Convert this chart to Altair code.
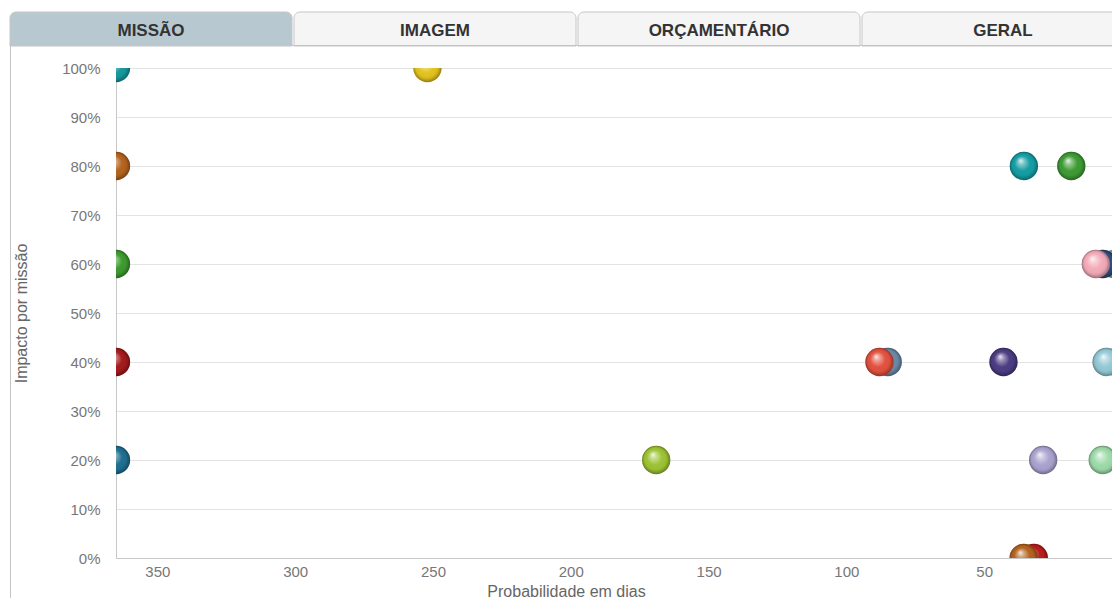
import altair as alt
import pandas as pd

# ---- data -------------------------------------------------------------
tabs = ["MISSÃO", "IMAGEM", "ORÇAMENTÁRIO", "GERAL"]
selected_tab = "MISSÃO"

risk_ids = ["R01", "R02", "R03", "R04", "R05", "R06", "R07", "R08", "R09", "R10",
            "R11", "R12", "R13", "R14", "R15", "R16", "R17", "R18", "R19", "R20", "R21"]
days = [365, 365, 365, 365, 365, 252, 169, 88, 85, 43,
        5.6, 2, 35.6, 18.4, 9.5, 7, 3, 28.6, 7, 35.7, 32]
impact = [1.0, 0.8, 0.6, 0.4, 0.2, 1.0, 0.2, 0.4, 0.4, 0.4,
          0.4, 0.4, 0.8, 0.8, 0.6, 0.6, 0.6, 0.2, 0.2, 0.0, 0.0]
palette = ["#16989c", "#b4621e", "#3c9a2e", "#a3191b", "#1e6e90", "#e2c21e", "#9cc232",
           "#e2503e", "#6a88a6", "#4b3b82", "#92c8d4", "#d44a36", "#139ca2", "#3d9a33",
           "#f2aab8", "#2c4c7c", "#8c9c9c", "#aaa2ce", "#9cdaa8", "#b2621c", "#bb1a1a"]

x_ticks = [0, 50, 100, 150, 200, 250, 300, 350]
y_ticks = [0.0, 0.1, 0.2, 0.3, 0.4, 0.5, 0.6, 0.7, 0.8, 0.9, 1.0]

df = pd.DataFrame({"risk": risk_ids, "days": days, "impact": impact})
tab_df = pd.DataFrame({"tab": tabs})
one_df = pd.DataFrame({"k": [0]})

# ---- encodings -------------------------------------------------------
FONT = "Liberation Sans"
X = alt.X("days:Q",
          scale=alt.Scale(domain=[0, 365], reverse=True, nice=False, zero=False),
          axis=alt.Axis(values=x_ticks, title="Probabilidade em dias", grid=False, ticks=False,
                        labelFlush=False, labelOverlap=False, labelPadding=6, labelFontSize=15,
                        labelColor="#777777", domainColor="#c8c8c8",
                        titleX=450, titleY=25, titleFontSize=16, titleFontWeight="normal",
                        titleColor="#666666", titleAlign="center", titleBaseline="top"))
Y = alt.Y("impact:Q",
          scale=alt.Scale(domain=[0, 1], nice=False),
          axis=alt.Axis(values=y_ticks, format=".0%", title="Impacto por missão", grid=True,
                        gridColor="#e3e3e3", ticks=False, labelPadding=16, labelFontSize=15,
                        labelColor="#777777", domainColor="#c8c8c8",
                        titleX=-87, titleY=245, titleFontSize=16, titleFontWeight="normal",
                        titleColor="#666666", titleAlign="center", titleBaseline="bottom"))
COLOR = alt.Color("risk:N", scale=alt.Scale(domain=risk_ids, range=palette), legend=None)

GRAD = {
    "gradient": "radial", "x1": 0.38, "y1": 0.3, "r1": 0.0,
    "x2": 0.5, "y2": 0.5, "r2": 0.5,
    "stops": [
        {"offset": 0.0, "color": "rgba(255,255,255,0.9)"},
        {"offset": 0.22, "color": "rgba(255,255,255,0.45)"},
        {"offset": 0.55, "color": "rgba(255,255,255,0)"},
        {"offset": 0.8, "color": "rgba(0,0,0,0.05)"},
        {"offset": 1.0, "color": "rgba(0,0,0,0.35)"},
    ],
}
SIZE = 800

order = sorted(range(len(risk_ids)), key=lambda i: days[i])
bubble_layers = []
for i in order:
    rid = risk_ids[i]
    base = alt.Chart(df).transform_filter(alt.datum.risk == rid)
    bubble_layers.append(
        base.mark_circle(size=SIZE, opacity=1, clip=True).encode(x=X, y=Y, color=COLOR))
    bubble_layers.append(
        base.mark_circle(size=SIZE, opacity=1, clip=True, fill=GRAD).encode(x=X, y=Y))
bubbles = alt.layer(*bubble_layers)

# ---- tabs ------------------------------------------------------------
TX = alt.X("tab:N", sort=tabs, axis=None,
           scale=alt.Scale(domain=tabs, range=[-106, 1028], paddingInner=0.007, paddingOuter=0))
tab_rect = alt.Chart(tab_df).mark_rect(
    cornerRadiusTopLeft=6, cornerRadiusTopRight=6, stroke="#c6c6c6", strokeWidth=1
).encode(
    x=TX, y=alt.value(-56), y2=alt.value(-22),
    fill=alt.condition(alt.datum.tab == selected_tab, alt.value("#b8c8d1"), alt.value("#f5f5f5")),
)
tab_text = alt.Chart(tab_df).mark_text(
    font=FONT, fontWeight="bold", fontSize=17, color="#333333", baseline="middle"
).encode(x=TX, y=alt.value(-37), text="tab:N")
tabs_layer = alt.layer(tab_rect, tab_text)

hline = alt.Chart(one_df).mark_rule(color="#c4c4c4", strokeWidth=1).encode(
    x=alt.value(-106), x2=alt.value(1010), y=alt.value(-22.5))
vline = alt.Chart(one_df).mark_rule(color="#c4c4c4", strokeWidth=1).encode(
    x=alt.value(-105.5), y=alt.value(-22.5), y2=alt.value(540))

chart = alt.layer(tabs_layer, hline, vline, bubbles).resolve_scale(
    x="independent"
).properties(
    width=1006, height=490,
    autosize=alt.AutoSizeParams(type="none"),
    padding={"left": 108, "top": 60, "right": -10, "bottom": 40},
).configure(font=FONT).configure_view(stroke=None)

chart.save("out.html", embed_options={"renderer": "svg", "actions": False})
